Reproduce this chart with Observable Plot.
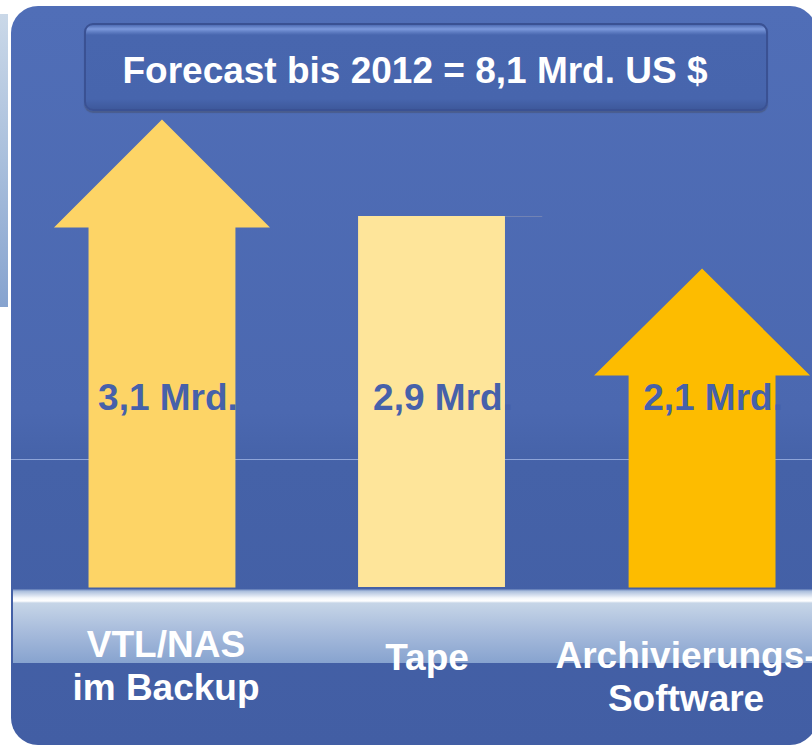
<!DOCTYPE html>
<html>
<head>
<meta charset="utf-8">
<script src="https://cdn.jsdelivr.net/npm/d3@7"></script>
<script src="https://cdn.jsdelivr.net/npm/@observablehq/plot@0.6"></script>
<style>
  html, body { margin: 0; padding: 0; background: #ffffff; }
  #wrap { position: relative; width: 812px; height: 746px; overflow: hidden; font-family: "Liberation Sans", Arial, sans-serif; }
  .strip { position: absolute; left: 0; top: 14px; width: 8px; height: 293px;
    background: linear-gradient(to bottom, #cad8e8 0%, #a9bfdc 50%, #86a3cf 100%); }
  .panel { position: absolute; left: 11px; top: 6px; width: 806px; height: 739px; border-radius: 27px;
    background: linear-gradient(to bottom, #506eb7 0%, #4b68b0 55%, #4562a8 62%, #425ea4 100%); }
  .shelf { position: absolute; left: 13px; top: 589px; width: 805px; height: 74px;
    background: linear-gradient(to bottom, #5470b0 0px, #a9bddc 2px, #f4f7fb 9px, #ffffff 12px, #c6d5e7 14px, #a8bcdc 42px, #87a3cf 74px); }
  .titlebox { position: absolute; left: 84px; top: 23px; width: 680px; height: 84px; border-radius: 9px;
    border: 2px solid #3a5193;
    background: linear-gradient(to bottom, #4f6db5 0px, #7c99dc 4px, #5f7dc3 7px, #4866ae 10px, #4765ad 88%, #3e599c 100%);
    box-shadow: 0 2px 1px rgba(70,80,110,0.55); }
  .title { position: absolute; left: 0; width: 830px; top: 52px; line-height: 37px; text-align: center;
    color: #ffffff; font-weight: bold; font-size: 37px; white-space: nowrap; }
  #chart { position: absolute; left: 0; top: 0; }
</style>
</head>
<body>
<div id="wrap">
  <div class="strip"></div>
  <div class="panel"></div>
  <div class="shelf"></div>
  <div class="titlebox"></div>
  <div class="title" id="title"></div>
  <div id="chart"></div>
</div>
<script>
// ---- data ----
const title = "Forecast bis 2012 = 8,1 Mrd. US $";
const categories = ["VTL/NAS\nim Backup", "Tape", "Archivierungs-\nSoftware"];
const values = [3.1, 2.9, 2.1];                       // Mrd. US $
const valueLabels = ["3,1 Mrd.", "2,9 Mrd.", "2,1 Mrd."];
const shapes = ["arrow", "bar", "arrow"];
const tipHeight = [4.68, 3.71, 3.19];                 // drawn height of the top of each shape (chart units)
const shaftHeight = [3.60, 3.71, 2.12];               // drawn height of the shaft / bar (chart units)

// ---- styles ----
const colors = ["#fdd466", "#fee59a", "#fdbc00"];
const shaftHalf = 0.272, headHalf = 0.4;
const valueDx = [6, 11, 11];
const catDx = [4, -5, -16];
const catY = [-0.39, -0.52, -0.50];
const font = "Liberation Sans, Arial, sans-serif";

document.getElementById("title").textContent = title;

const rows = categories.map((c, i) => ({
  cat: c, idx: i + 1, value: values[i], label: valueLabels[i],
  shape: shapes[i], tip: tipHeight[i], shaft: shaftHeight[i]
}));

const arrowPolys = rows.filter(d => d.shape === "arrow").map(d => ({
  row: d,
  pts: [
    {x: d.idx - shaftHalf, y: 0},
    {x: d.idx - shaftHalf, y: d.shaft},
    {x: d.idx - headHalf, y: d.shaft},
    {x: d.idx, y: d.tip},
    {x: d.idx + headHalf, y: d.shaft},
    {x: d.idx + shaftHalf, y: d.shaft},
    {x: d.idx + shaftHalf, y: 0}
  ]
}));
const bars = rows.filter(d => d.shape === "bar");

const marks = [
  Plot.ruleY([1.28], {x1: 0.443, x2: 3.41, stroke: "#8ea4d8", strokeWidth: 1}),
  ...arrowPolys.map(a => Plot.line(a.pts, {x: "x", y: "y", fill: colors[a.row.idx - 1], stroke: "none", curve: "linear"})),
  Plot.rect(bars, {x1: d => d.idx - shaftHalf, x2: d => d.idx + shaftHalf, y1: 0, y2: "tip", fill: d => colors[d.idx - 1]}),
  Plot.ruleY(bars, {y: "tip", x1: d => d.idx + shaftHalf, x2: d => d.idx + 0.41, stroke: "#7283b4", strokeWidth: 1.2}),
  ...rows.map((d, i) => Plot.text([d], {x: "idx", y: 1.89, text: "label", dx: valueDx[i],
    fill: "#4661aa", fontSize: 37, fontWeight: "bold", fontFamily: font, lineAnchor: "middle"})),
  ...rows.map((d, i) => Plot.text([d], {x: "idx", y: catY[i], text: "cat", dx: catDx[i],
    fill: "#ffffff", fontSize: 37, fontWeight: "bold", fontFamily: font, lineAnchor: "top", lineHeight: 1.16}))
];

const chart = Plot.plot({
  width: 812,
  height: 746,
  margin: 0,
  x: {domain: [0.402, 3.409], axis: null},
  y: {domain: [-1.59, 5.87], axis: null},
  color: {type: "identity"},
  style: {background: "transparent", overflow: "visible"},
  marks
});
document.getElementById("chart").appendChild(chart);
</script>
</body>
</html>
